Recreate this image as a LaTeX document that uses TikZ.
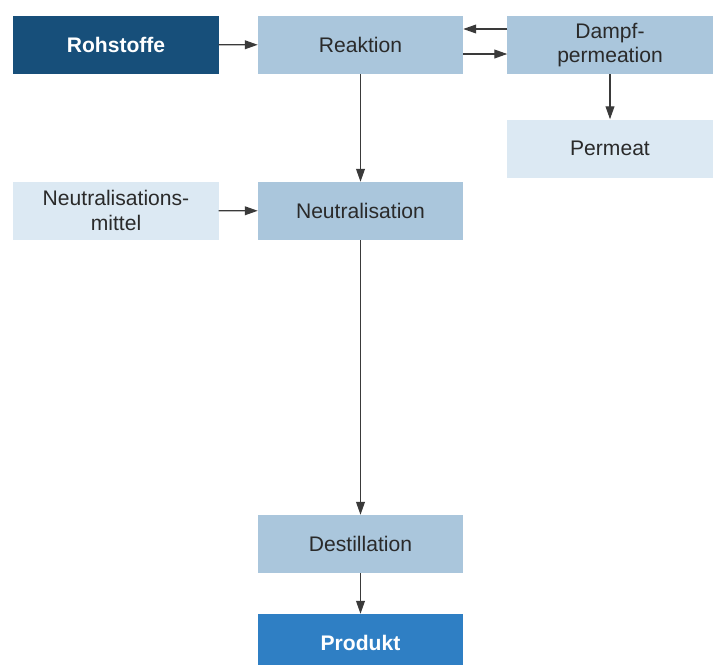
\documentclass[tikz,border=0pt]{standalone}
\usepackage{fontspec}
\setmainfont{Liberation Sans}
\usetikzlibrary{arrows.meta}
\definecolor{darkblue}{HTML}{174F7A}
\definecolor{midblue}{HTML}{2F7FC4}
\definecolor{lightblue}{HTML}{AAC6DC}
\definecolor{paleblue}{HTML}{DCE9F3}
\definecolor{linegray}{HTML}{3A3A3A}
\definecolor{textgray}{HTML}{2A2A2A}
\begin{document}
\begin{tikzpicture}[x=0.03cm, y=-0.03cm,
	box/.style={minimum width=6.15cm, minimum height=1.74cm, inner sep=0pt, align=center, font=\fontsize{18}{21}\selectfont, text=textgray},
	step box/.style={box, fill=lightblue},
	feed box/.style={box, fill=paleblue},
	arr/.style={-{Triangle[length=11pt, width=7.5pt]}, linegray, line width=1pt}]
	\useasboundingbox (0,0) rectangle (719,665);
	\clip (0,0) rectangle (719,665);
	
	% raw material and product
	\node[box, fill=darkblue, text=white, font=\fontsize{18}{21}\selectfont\bfseries] (rohstoffe) at (116,44.5) {Rohstoffe};
	\node[box, fill=midblue, text=white, font=\fontsize{18}{21}\selectfont\bfseries] (produkt) at (360.5,643) {Produkt};
	
	% process steps
	\node[step box] (reaktion) at (360.5,45) {Reaktion};
	\node[step box] (dampf) at (610,45) {Dampf-\\permeation};
	\node[step box] (neutral) at (360.5,211) {Neutralisation};
	\node[step box] (destill) at (360.5,544) {Destillation};
	
	% side streams
	\node[feed box] (permeat) at (610,148.5) {Permeat};
	\node[feed box] (nmittel) at (116,210.5) {Neutralisations-\\mittel};
	
	% arrows
	\draw[arr] (rohstoffe) -- (reaktion);
	\draw[arr] ([yshift=0.48cm]dampf.west) -- ([yshift=0.48cm]reaktion.east);
	\draw[arr] ([yshift=-0.27cm]reaktion.east) -- ([yshift=-0.27cm]dampf.west);
	\draw[arr] (dampf) -- (permeat);
	\draw[arr] (reaktion) -- (neutral);
	\draw[arr] (nmittel) -- (neutral);
	\draw[arr] (neutral) -- (destill);
	\draw[arr] (destill) -- (produkt);
\end{tikzpicture}
\end{document}
